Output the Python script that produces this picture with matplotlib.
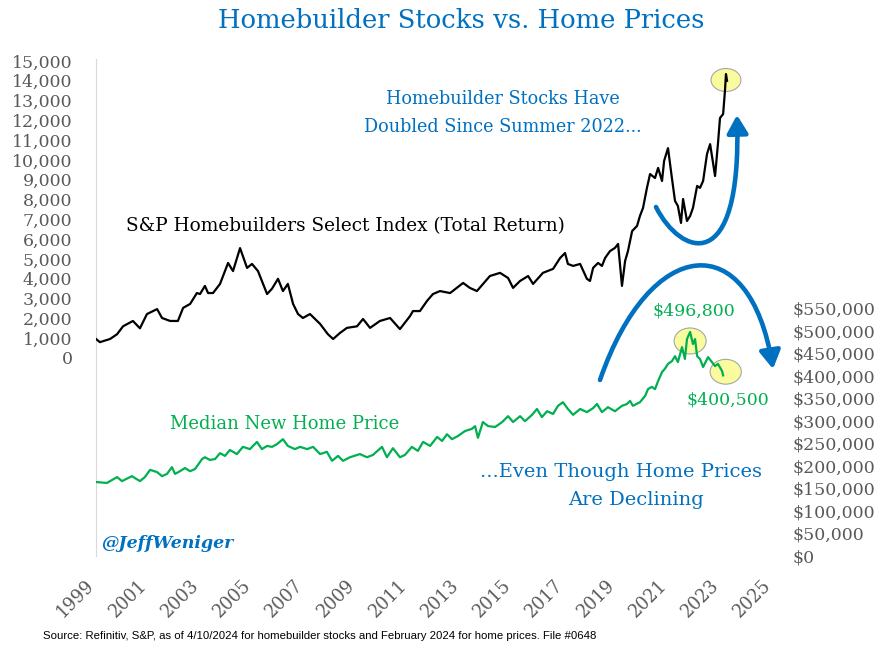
import matplotlib
matplotlib.use("Agg")
import matplotlib.pyplot as plt
from matplotlib.patches import Ellipse, FancyArrowPatch
from matplotlib.path import Path
from matplotlib.ticker import FuncFormatter
from matplotlib.transforms import ScaledTranslation

W, H = 894, 645
BLUE = "#0070C0"
GREEN = "#00B050"
GREY = "#595959"

# S&P Homebuilders Select Index (total return)
hb_years = [2000.00, 2000.15, 2000.54, 2000.81, 2001.04, 2001.42, 2001.69, 2001.96,
            2002.35, 2002.54, 2002.85, 2003.15, 2003.35, 2003.62, 2003.88, 2004.00,
            2004.19, 2004.31, 2004.50, 2004.77, 2004.96, 2005.08, 2005.27, 2005.54,
            2005.81, 2006.00, 2006.23, 2006.58, 2006.77, 2007.00, 2007.19, 2007.38,
            2007.58, 2007.77, 2007.96, 2008.23, 2008.62, 2008.92, 2009.12, 2009.38,
            2009.65, 2010.04, 2010.27, 2010.54, 2010.92, 2011.31, 2011.69, 2012.08,
            2012.19, 2012.46, 2012.73, 2012.96, 2013.23, 2013.62, 2014.12, 2014.38,
            2014.65, 2015.15, 2015.54, 2015.85, 2016.04, 2016.31, 2016.62, 2016.81,
            2017.19, 2017.58, 2017.85, 2018.04, 2018.15, 2018.35, 2018.62, 2018.88,
            2019.00, 2019.12, 2019.31, 2019.46, 2019.58, 2019.77, 2019.96, 2020.08,
            2020.23, 2020.35, 2020.46, 2020.62, 2020.81, 2020.92, 2021.04, 2021.19,
            2021.31, 2021.50, 2021.62, 2021.77, 2021.85, 2022.00, 2022.15, 2022.27,
            2022.38, 2022.50, 2022.58, 2022.73, 2022.85, 2022.96, 2023.12, 2023.23,
            2023.35, 2023.50, 2023.62, 2023.81, 2023.92, 2024.00, 2024.12, 2024.19,
            2024.23, 2024.27]
hb_index = [960, 800, 960, 1200, 1600, 1870, 1500, 2220,
            2470, 2020, 1870, 1870, 2530, 2730, 3280, 3230,
            3640, 3280, 3280, 3740, 4390, 4800, 4390, 5550,
            4550, 4750, 4390, 3230, 3500, 4000, 3380, 3740,
            2730, 2220, 2020, 2220, 1720, 1200, 960, 1260,
            1520, 1600, 1970, 1520, 1870, 2020, 1460, 2120,
            2370, 2370, 2880, 3230, 3380, 3280, 3790, 3540,
            3380, 4140, 4300, 4040, 3540, 3890, 4140, 3740,
            4300, 4500, 5050, 5300, 4750, 4650, 4750, 4000,
            3890, 4550, 4800, 4650, 5050, 5400, 5560, 5760,
            3640, 4900, 5400, 6410, 6670, 7170, 7580, 8590,
            9290, 9090, 9600, 8940, 9950, 10600, 9090, 7930,
            7680, 6820, 8030, 6920, 7170, 7580, 8690, 8590,
            8940, 10300, 10800, 9190, 10800, 12120, 12320, 13480,
            14340, 14000]

# Median new home price
price_years = [2000.00, 2000.42, 2000.81, 2001.00, 2001.38, 2001.69, 2001.88, 2002.08,
               2002.35, 2002.54, 2002.73, 2002.92, 2003.04, 2003.23, 2003.42, 2003.62,
               2003.81, 2004.08, 2004.19, 2004.38, 2004.58, 2004.77, 2004.96, 2005.15,
               2005.42, 2005.65, 2005.92, 2006.19, 2006.38, 2006.58, 2006.77, 2006.96,
               2007.19, 2007.38, 2007.65, 2007.85, 2008.12, 2008.35, 2008.62, 2008.88,
               2009.08, 2009.31, 2009.50, 2009.77, 2010.15, 2010.42, 2010.65, 2011.00,
               2011.19, 2011.42, 2011.69, 2011.88, 2012.15, 2012.38, 2012.58, 2012.85,
               2013.12, 2013.31, 2013.50, 2013.69, 2013.92, 2014.19, 2014.46, 2014.58,
               2014.69, 2014.88, 2015.08, 2015.35, 2015.62, 2015.85, 2016.04, 2016.31,
               2016.50, 2016.77, 2016.96, 2017.15, 2017.35, 2017.58, 2017.77, 2017.96,
               2018.15, 2018.35, 2018.62, 2018.88, 2019.12, 2019.27, 2019.46, 2019.69,
               2019.96, 2020.23, 2020.42, 2020.54, 2020.65, 2020.92, 2021.12, 2021.23,
               2021.38, 2021.50, 2021.62, 2021.77, 2021.88, 2022.00, 2022.15, 2022.27,
               2022.38, 2022.54, 2022.65, 2022.73, 2022.85, 2022.96, 2023.04, 2023.12,
               2023.23, 2023.35, 2023.54, 2023.69, 2023.81, 2023.92, 2024.08, 2024.12]
price_usd = [164000, 162000, 175000, 166000, 177000, 166000, 175000, 191000,
             186000, 177000, 182000, 197000, 182000, 188000, 195000, 188000,
             193000, 215000, 219000, 213000, 215000, 228000, 222000, 235000,
             226000, 242000, 237000, 253000, 237000, 244000, 242000, 248000,
             259000, 244000, 237000, 242000, 237000, 242000, 226000, 231000,
             211000, 222000, 211000, 219000, 226000, 219000, 224000, 242000,
             219000, 239000, 219000, 224000, 242000, 233000, 253000, 244000,
             264000, 255000, 270000, 259000, 266000, 277000, 282000, 288000,
             262000, 297000, 288000, 286000, 297000, 310000, 297000, 310000,
             299000, 313000, 326000, 308000, 321000, 315000, 333000, 341000,
             326000, 313000, 326000, 319000, 328000, 337000, 319000, 330000,
             321000, 333000, 337000, 344000, 333000, 341000, 355000, 370000,
             375000, 370000, 388000, 408000, 415000, 426000, 432000, 443000,
             430000, 463000, 437000, 481000, 496800, 470000, 481000, 443000,
             437000, 419000, 441000, 430000, 421000, 426000, 410000, 400500]

year_labels = list(range(1999, 2026, 2))
left_ticks = list(range(0, 15001, 1000))
right_ticks = list(range(0, 550001, 50000))

plt.rcParams['font.family'] = 'DejaVu Serif'

fig = plt.figure(figsize=(W / 100, H / 100), dpi=100)


def fx(x):
    return x / W


def fy(y):
    return 1 - y / H


ax = fig.add_axes([fx(96), fy(556), 678.6 / W, (556 - 59) / H])
ax2 = ax.twinx()

ax.plot(hb_years, hb_index, color="black", lw=1.6, zorder=3)
ax2.plot(price_years, price_usd, color=GREEN, lw=1.6, zorder=3)

ax.set_xlim(2000, 2026.1)
ax.set_ylim(-10000, 15100)
ax2.set_ylim(0, 1102000)

ax.set_yticks(left_ticks)
ax.yaxis.set_major_formatter(FuncFormatter(lambda v, p: f"{v:,.0f}"))
ax2.set_yticks(right_ticks)
ax2.yaxis.set_major_formatter(FuncFormatter(lambda v, p: f"${v:,.0f}"))
ax.tick_params(axis="y", length=0, pad=17, labelsize=12.5, labelcolor=GREY)
ax2.tick_params(axis="y", length=0, pad=13, labelsize=12.5, labelcolor=GREY)

# year ticks sit on 31 Dec of each labelled year, like the original date axis
ax.set_xticks([y + 1 for y in year_labels], labels=[str(y) for y in year_labels])
ax.tick_params(axis="x", length=0, pad=19, labelsize=12.8, labelcolor=GREY)
nudge = ScaledTranslation(-3 / 72, 0, fig.dpi_scale_trans)
for lbl in ax.get_xticklabels():
    lbl.set_rotation(45)
    lbl.set_ha("right")
    lbl.set_va("center")
    lbl.set_rotation_mode("anchor")
    lbl.set_transform(lbl.get_transform() + nudge)

for s in ["top", "right", "bottom"]:
    ax.spines[s].set_visible(False)
ax.spines["left"].set_color("#D9D9D9")
for s in ax2.spines.values():
    s.set_visible(False)

# yellow highlight circles
ax.add_patch(Ellipse((hb_years[-2], hb_index[-2] - 300), 1.15, 1160,
                     facecolor="#FAFA9E", edgecolor="#A6A6A6", lw=0.8, zorder=1))
peak = price_usd.index(max(price_usd))
ax2.add_patch(Ellipse((price_years[peak], price_usd[peak] - 20000), 1.23, 57600,
                      facecolor="#FAFA9E", edgecolor="#A6A6A6", lw=0.8, zorder=1))
ax2.add_patch(Ellipse((price_years[-1] + 0.1, price_usd[-1] + 8000), 1.2, 55000,
                      facecolor="#FAFA9E", edgecolor="#A6A6A6", lw=0.8, zorder=1))

# blue curved arrows
def curve_arrow(p0, c1, c2, p3):
    verts = [(fx(x), fy(y)) for x, y in (p0, c1, c2, p3)]
    path = Path(verts, [Path.MOVETO, Path.CURVE4, Path.CURVE4, Path.CURVE4])
    arr = FancyArrowPatch(path=path, arrowstyle="-|>,head_length=0.6,head_width=0.35",
                          mutation_scale=18, lw=3.3, color=BLUE,
                          transform=fig.transFigure, zorder=5)
    fig.add_artist(arr)


curve_arrow((656, 207), (680, 255), (742, 280), (737, 115))
curve_arrow((600, 380), (650, 235), (750, 225), (773, 369))

# texts
fig.text(fx(461), fy(20), "Homebuilder Stocks vs. Home Prices", ha="center", va="center",
         color=BLUE, fontsize=18.6)
fig.text(fx(503), fy(113), "Homebuilder Stocks Have\nDoubled Since Summer 2022...",
         ha="center", va="center", color=BLUE, fontsize=12.7, linespacing=1.7)
fig.text(fx(345), fy(226), "S&P Homebuilders Select Index (Total Return)",
         ha="center", va="center", color="black", fontsize=13.3)
fig.text(fx(285), fy(424), "Median New Home Price", ha="center", va="center",
         color=GREEN, fontsize=13)
fig.text(fx(621), fy(472), "...Even Though Home Prices", ha="center", va="center",
         color=BLUE, fontsize=14)
fig.text(fx(636), fy(500), "Are Declining", ha="center", va="center",
         color=BLUE, fontsize=14)
fig.text(fx(694), fy(311), f"${max(price_usd):,.0f}", ha="center", va="center",
         color=GREEN, fontsize=12.5)
fig.text(fx(728), fy(400), f"${price_usd[-1]:,.0f}", ha="center", va="center",
         color=GREEN, fontsize=12.5)
fig.text(fx(101), fy(544), "@JeffWeniger", ha="left", va="center", color=BLUE,
         fontsize=12.5, fontweight="bold", fontstyle="italic")
fig.text(fx(43), fy(636), "Source: Refinitiv, S&P, as of 4/10/2024 for homebuilder stocks and "
         "February 2024 for home prices. File #0648", ha="left", va="center",
         color="black", fontsize=8.2, family="Liberation Sans")

fig.savefig("out.png", dpi=100)
